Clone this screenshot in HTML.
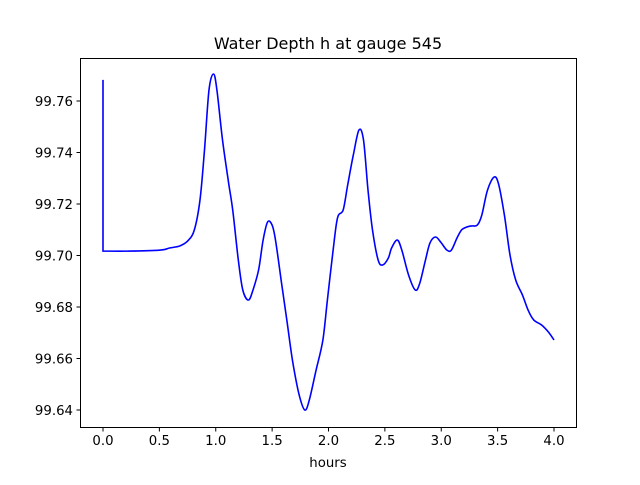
<!DOCTYPE html>
<html><head><meta charset="utf-8"><style>
body{margin:0;background:#fff}
svg text{font-family:"DejaVu Sans","Liberation Sans",sans-serif;fill:#000}
</style></head><body>
<svg id="chart" width="640" height="480">
<rect width="640" height="480" fill="#fff"/>
<text x="328" y="49" font-size="16" text-anchor="middle">Water Depth h at gauge 545</text>
<text x="328" y="467" font-size="13.3" text-anchor="middle">hours</text>
<g id="ticks"></g>
<path id="line" fill="none" stroke="#0000ff" stroke-width="1.6"/>
<rect x="80.5" y="58.5" width="496" height="369" fill="none" stroke="#000" stroke-width="1"/>
</svg>
<script>
const hours=[0,0,0.24,0.51,0.59,0.68,0.75,0.81,0.86,0.90,0.94,0.98,1.01,1.06,1.11,1.15,1.20,1.24,1.29,1.33,1.38,1.42,1.46,1.50,1.53,1.58,1.63,1.68,1.74,1.79,1.83,1.89,1.95,1.99,2.04,2.08,2.13,2.17,2.22,2.27,2.31,2.35,2.39,2.44,2.48,2.53,2.56,2.61,2.65,2.71,2.77,2.81,2.86,2.90,2.95,3.00,3.05,3.09,3.14,3.18,3.23,3.27,3.32,3.36,3.41,3.47,3.51,3.56,3.61,3.66,3.72,3.77,3.82,3.89,3.95,4.0];
const depth=[99.7682,99.7017,99.7017,99.7021,99.7029,99.7037,99.7056,99.7099,99.7216,99.7410,99.7643,99.7705,99.7643,99.7449,99.7293,99.7177,99.6983,99.6866,99.6827,99.6866,99.6944,99.7060,99.7130,99.7118,99.7060,99.6905,99.6750,99.6594,99.6458,99.6400,99.6439,99.6555,99.6672,99.6827,99.7017,99.7146,99.7177,99.7274,99.7390,99.7487,99.7449,99.7254,99.7099,99.6983,99.6963,99.6990,99.7029,99.7060,99.7021,99.6924,99.6866,99.6893,99.6983,99.7049,99.7072,99.7049,99.7021,99.7021,99.7068,99.7099,99.7111,99.7115,99.7118,99.7157,99.7254,99.7305,99.7274,99.7157,99.7002,99.6905,99.6847,99.6788,99.6750,99.6730,99.6703,99.6672];
const xTicks=[0,0.5,1,1.5,2,2.5,3,3.5,4];
const xTickLabels=["0.0","0.5","1.0","1.5","2.0","2.5","3.0","3.5","4.0"];
const yTicks=[99.64,99.66,99.68,99.70,99.72,99.74,99.76];
const yTickLabels=["99.64","99.66","99.68","99.70","99.72","99.74","99.76"];
const X=h=>103+h*112.75;
const Y=v=>101+(99.76-v)*2575;
const NS="http://www.w3.org/2000/svg";
const g=document.getElementById('ticks');
xTicks.forEach((t,i)=>{
  const l=document.createElementNS(NS,'line');
  
  
  l.setAttribute('x1',X(t));l.setAttribute('x2',X(t));l.setAttribute('y1',427.5);l.setAttribute('y2',431.5);l.setAttribute('stroke','#000');
  g.appendChild(l);
  const tx=document.createElementNS(NS,'text');
  
  
  tx.setAttribute('x',X(t));tx.setAttribute('y',445);tx.setAttribute('font-size','13.3');tx.setAttribute('text-anchor','middle');
  tx.textContent=xTickLabels[i];g.appendChild(tx);
});
yTicks.forEach((t,i)=>{
  const l=document.createElementNS(NS,'line');
  
  
  l.setAttribute('x1',76.5);l.setAttribute('x2',80.5);l.setAttribute('y1',Y(t));l.setAttribute('y2',Y(t));l.setAttribute('stroke','#000');
  g.appendChild(l);
  const tx=document.createElementNS(NS,'text');
  
  
  tx.setAttribute('x',73);tx.setAttribute('y',Y(t)+4.8);tx.setAttribute('font-size','13.3');tx.setAttribute('text-anchor','end');
  tx.textContent=yTickLabels[i];g.appendChild(tx);
});
const P=hours.map((h,i)=>[X(h),Y(depth[i])]);
let d='M'+P[0][0].toFixed(1)+','+P[0][1].toFixed(1)+'L'+P[1][0].toFixed(1)+','+P[1][1].toFixed(1);
for(let i=1;i<P.length-1;i++){
  const p0=P[Math.max(1,i-1)],p1=P[i],p2=P[i+1],p3=P[Math.min(P.length-1,i+2)];
  const c1=[p1[0]+(p2[0]-p0[0])/6,p1[1]+(p2[1]-p0[1])/6];
  const c2=[p2[0]-(p3[0]-p1[0])/6,p2[1]-(p3[1]-p1[1])/6];
  d+='C'+c1[0].toFixed(1)+','+c1[1].toFixed(1)+' '+c2[0].toFixed(1)+','+c2[1].toFixed(1)+' '+p2[0].toFixed(1)+','+p2[1].toFixed(1);
}
document.getElementById('line').setAttribute('d',d);
</script>
</body></html>
